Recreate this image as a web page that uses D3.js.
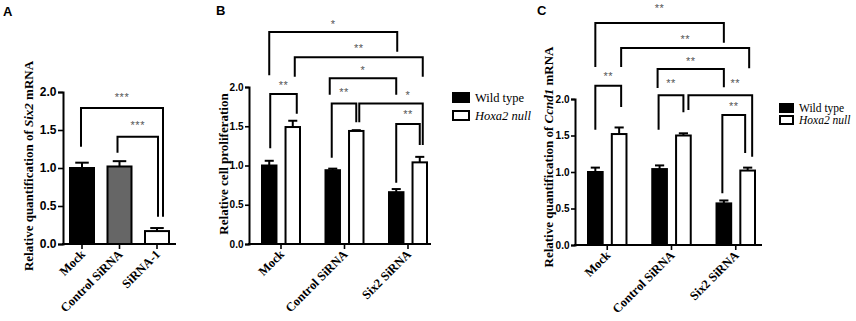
<!DOCTYPE html>
<html><head><meta charset="utf-8">
<script src="https://cdn.jsdelivr.net/npm/d3@7"></script>
<style>
html,body{margin:0;padding:0;background:#fff;}
svg{display:block;}
</style></head>
<body>
<svg id="chart" width="856" height="321"></svg>
<script>
// ---------- data ----------
const yTicks = [0, 0.5, 1.0, 1.5, 2.0];

// Panel A
const catsA = ["Mock", "Control SiRNA", "SiRNA-1"];
const valsA = [1.00, 1.02, 0.17];
const errA  = [0.07, 0.07, 0.04];
const fillA = ["#000000", "#666666", "#ffffff"];
const bracketsA = [
  {a:0, b:2, y:1.79, ya:1.28, yb:0.36, label:"***", lv:1.95, da:-1, db:6},
  {a:1, b:2, y:1.41, ya:1.20, yb:0.36, label:"***", lv:1.58, da:-2, db:1}
];

// Panels B and C
const catsBC = ["Mock", "Control SiRNA", "Six2 SiRNA"];
const seriesNames = ["Wild type", "Hoxa2 null"];
const wtB    = [1.00, 0.94, 0.66];
const wtErrB = [0.06, 0.02, 0.04];
const hoB    = [1.49, 1.44, 1.04];
const hoErrB = [0.08, 0.01, 0.07];
const bracketsB = [
  {a:[0,0], b:[2,0], y:2.70, ya:2.15, yb:2.45, label:"*",  lv:2.82, da:0, db:1},
  {a:[0,1], b:[2,1], y:2.38, ya:2.13, yb:2.13, label:"**", lv:2.51, da:2, db:3},
  {a:[1,0], b:[2,0], y:2.11, ya:1.90, yb:1.90, label:"*",  lv:2.23, da:-3, db:0},
  {a:[0,0], b:[0,1], y:1.91, ya:1.22, yb:1.66, label:"**", lv:2.04, da:1, db:4},
  {a:[1,0], b:[1,1], y:1.79, ya:1.10, yb:1.55, label:"**", lv:1.95, da:-1, db:0},
  {a:[1,1], b:[2,1], y:1.79, ya:1.55, yb:1.26, label:"*",  lv:1.91, da:3, db:3, lx:17},
  {a:[2,0], b:[2,1], y:1.53, ya:0.78, yb:1.26, label:"**", lv:1.67, da:0, db:0}
];

const wtC    = [1.00, 1.04, 0.57];
const wtErrC = [0.06, 0.05, 0.04];
const hoC    = [1.52, 1.50, 1.02];
const hoErrC = [0.09, 0.03, 0.04];
const bracketsC = [
  {a:[0,0], b:[2,0], y:3.04, ya:2.44, yb:2.77, label:"**", lv:3.26, da:0, db:0},
  {a:[0,1], b:[2,1], y:2.70, ya:2.44, yb:2.42, label:"**", lv:2.84, da:2, db:1.5},
  {a:[1,0], b:[2,0], y:2.41, ya:2.15, yb:2.16, label:"**", lv:2.53, da:-2, db:0},
  {a:[0,0], b:[0,1], y:2.18, ya:1.58, yb:1.89, label:"**", lv:2.33, da:0, db:2},
  {a:[1,0], b:[1,1], y:2.05, ya:1.58, yb:1.82, label:"**", lv:2.23, da:-1, db:0},
  {a:[1,1], b:[2,1], y:2.05, ya:1.85, yb:1.21, label:"**", lv:2.23, da:5, db:4.5, lx:15},
  {a:[2,0], b:[2,1], y:1.78, ya:0.71, yb:1.26, label:"**", lv:1.92, da:-1.5, db:-2.5}
];

// ---------- drawing ----------
const svg = d3.select("#chart");
const SERIF = "'Liberation Serif','Times New Roman',serif";
const SANS = "'Liberation Sans',Arial,sans-serif";

function yAxis(g, y, x0, fs, ts) {
  const ax = g.append("g").attr("transform", `translate(${x0},0)`)
    .call(d3.axisLeft(y).tickValues(yTicks).tickFormat(d3.format(".1f"))
      .tickSizeOuter(0).tickSize(ts).tickPadding(1.5));
  ax.select(".domain").attr("stroke", "#000").attr("stroke-width", 2);
  ax.selectAll(".tick line").attr("stroke", "#000").attr("stroke-width", 1.6);
  ax.selectAll(".tick text").attr("font-family", SANS).attr("font-weight", "bold")
    .attr("font-size", fs).attr("fill", "#000");
}

function xAxis(g, x, x0, x1, y0) {
  g.append("line").attr("x1", x0 - 1).attr("x2", x1).attr("y1", y0).attr("y2", y0)
    .attr("stroke", "#000").attr("stroke-width", 2);
  const ax = g.append("g").attr("transform", `translate(0,${y0})`)
    .call(d3.axisBottom(x).tickSize(5).tickFormat(""));
  ax.select(".domain").remove();
  ax.selectAll(".tick line").attr("stroke", "#000").attr("stroke-width", 1.6);
  x.domain().forEach(c => {
    g.append("text")
      .attr("transform", `translate(${x(c) + x.bandwidth() / 2 + 4},${y0 + 11}) rotate(-45)`)
      .attr("text-anchor", "end").attr("font-family", SERIF).attr("font-weight", "bold")
      .attr("font-size", 12.5).attr("fill", "#000").text(c);
  });
}

function yTitle(g, parts, cx, cy) {
  const t = g.append("text").attr("transform", `translate(${cx},${cy}) rotate(-90)`)
    .attr("text-anchor", "middle").attr("font-family", SERIF).attr("font-weight", "bold")
    .attr("font-size", 13).attr("fill", "#000");
  parts.forEach(p => t.append("tspan").attr("font-style", p.i ? "italic" : "normal").text(p.t));
}

function bar(g, x, w, y, v, err, fill, capFrac) {
  g.append("rect").attr("x", x + 1).attr("y", y(v)).attr("width", w - 2)
    .attr("height", y(0) - y(v)).attr("fill", fill).attr("stroke", "#000").attr("stroke-width", 2);
  const cx = x + w / 2, cw = w * capFrac;
  g.append("line").attr("x1", cx).attr("x2", cx).attr("y1", y(v)).attr("y2", y(v + err))
    .attr("stroke", "#000").attr("stroke-width", 2);
  g.append("line").attr("x1", cx - cw / 2).attr("x2", cx + cw / 2).attr("y1", y(v + err)).attr("y2", y(v + err))
    .attr("stroke", "#000").attr("stroke-width", 2);
}

function bracket(g, y, xa, xb, br) {
  const pa = xa + (br.da || 0), pb = xb + (br.db || 0);
  g.append("path")
    .attr("d", `M${pa},${y(br.ya)}V${y(br.y)}H${pb}V${y(br.yb)}`)
    .attr("fill", "none").attr("stroke", "#000").attr("stroke-width", 2);
  g.append("text").attr("x", (pa + pb) / 2 + (br.lx || 0)).attr("y", y(br.lv) + 5)
    .attr("text-anchor", "middle").attr("font-family", SANS).attr("font-size", 11)
    .attr("fill", "#555").attr("letter-spacing", 0.5).text(br.label);
}

function panelLetter(t, x, y) {
  svg.append("text").attr("x", x).attr("y", y).attr("font-family", SANS)
    .attr("font-weight", "bold").attr("font-size", 13).attr("fill", "#000").text(t);
}

function legend(g, x, y, gap, fs, w, h) {
  seriesNames.forEach((s, i) => {
    g.append("rect").attr("x", x).attr("y", y + i * gap - h + 1).attr("width", w).attr("height", h)
      .attr("fill", i === 0 ? "#000" : "#fff").attr("stroke", "#000").attr("stroke-width", 2);
    g.append("text").attr("x", x + w + 6).attr("y", y + i * gap + 1)
      .attr("font-family", SERIF).attr("font-size", fs).attr("font-style", i === 1 ? "italic" : "normal")
      .attr("fill", "#000").text(s);
  });
}

// ----- Panel A -----
{
  const g = svg.append("g");
  const y = d3.scaleLinear().domain([0, 2]).range([244, 92]);
  const x = d3.scaleBand().domain(catsA).range([69, 170]).paddingInner(0.3067);
  catsA.forEach((c, i) => bar(g, x(c), x.bandwidth(), y, valsA[i], errA[i], fillA[i], 0.52));
  bracketsA.forEach(br => bracket(g, y,
    x(catsA[br.a]) + x.bandwidth() / 2, x(catsA[br.b]) + x.bandwidth() / 2, br));
  yAxis(g, y, 63, 12, 5);
  xAxis(g, x, 63, 176, 244);
  yTitle(g, [{t:"Relative quantification of "}, {t:"Six2", i:true}, {t:" mRNA"}], 33, 166);
  panelLetter("A", 3, 16);
}

// ----- Grouped panels -----
function grouped(opts) {
  const g = svg.append("g");
  const y = d3.scaleLinear().domain([0, 2]).range([opts.y0, opts.y2]);
  const x = d3.scaleBand().domain(catsBC).range(opts.xr).paddingInner(0.37);
  const xs = d3.scaleBand().domain(seriesNames).range([0, x.bandwidth()]).paddingInner(0.3);
  const vals = [opts.wt, opts.ho], errs = [opts.wtErr, opts.hoErr];
  catsBC.forEach((c, i) => seriesNames.forEach((s, j) =>
    bar(g, x(c) + xs(s), xs.bandwidth(), y, vals[j][i], errs[j][i], j === 0 ? "#000" : "#fff", 0.55)));
  const cx = p => x(catsBC[p[0]]) + xs(seriesNames[p[1]]) + xs.bandwidth() / 2;
  opts.brackets.forEach(br => bracket(g, y, cx(br.a), cx(br.b), br));
  yAxis(g, y, opts.ax, 10, 4);
  xAxis(g, x, opts.ax, opts.xend, opts.y0);
  yTitle(g, opts.title, opts.tx, opts.ty);
  return g;
}

const gB = grouped({y0:244, y2:87, xr:[261, 428], ax:249, xend:431,
  wt:wtB, wtErr:wtErrB, ho:hoB, hoErr:hoErrB, brackets:bracketsB,
  title:[{t:"Relative cell proliferation"}], tx:228, ty:164});
legend(gB, 453, 101, 18, 12.5, 16, 9);
panelLetter("B", 216, 15);

const gC = grouped({y0:245, y2:99, xr:[587, 756], ax:575, xend:762,
  wt:wtC, wtErr:wtErrC, ho:hoC, hoErr:hoErrC, brackets:bracketsC,
  title:[{t:"Relative quantification of "}, {t:"Ccnd1", i:true}, {t:" mRNA"}], tx:553, ty:157});
legend(gC, 780, 111, 12, 11.5, 13, 8);
panelLetter("C", 537, 15);
</script>
</body></html>
